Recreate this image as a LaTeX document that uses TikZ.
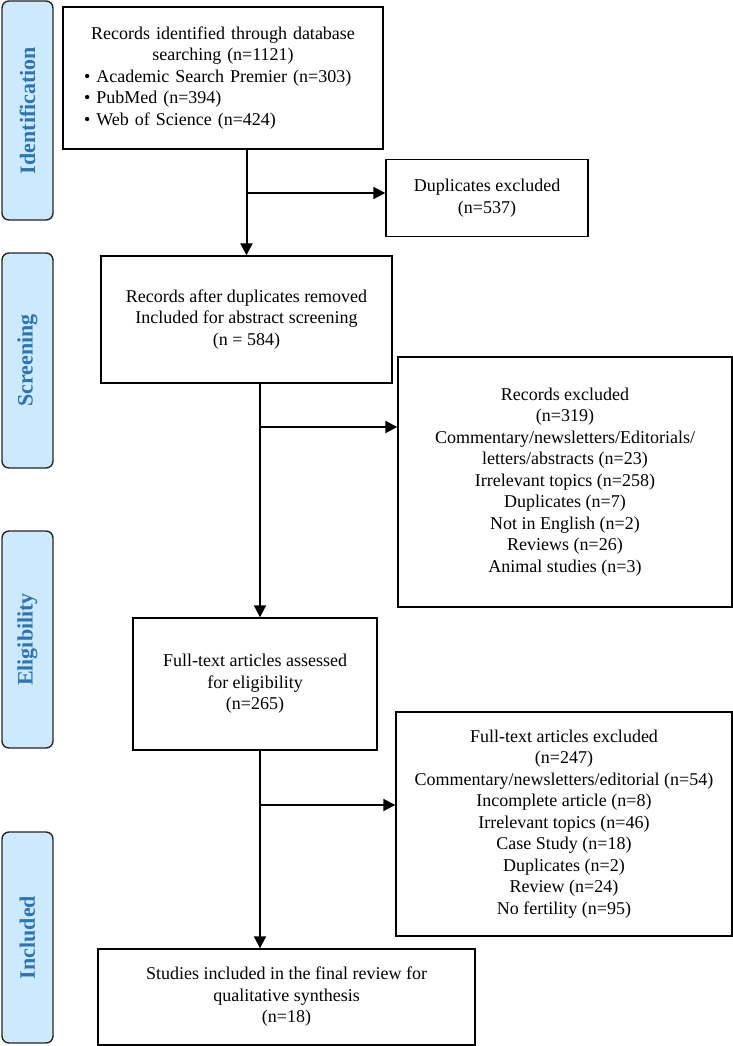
\documentclass[tikz,border=0pt]{standalone}
\usepackage{fontspec}
\setmainfont{Liberation Serif}
\usepackage{tikz}
\usetikzlibrary{arrows.meta,positioning}

\definecolor{phasefill}{RGB}{204,234,252}
\definecolor{phasetext}{RGB}{46,116,181}

\begin{document}
\begin{tikzpicture}[x=1pt,y=-1pt,>={Triangle[width=12pt,length=12pt]}]
  \tikzstyle{every node}=[font=\fontsize{18}{21.5}\selectfont]
  \tikzstyle{box}=[draw,line width=1.4pt,inner sep=0pt,align=center]
  \tikzstyle{phase}=[draw=black!85,line width=1.4pt,fill=phasefill,rounded corners=7pt,
    minimum height=51pt,inner sep=0pt,rotate=90,
    font=\fontsize{22}{24}\selectfont\bfseries,text=phasetext]
  \tikzstyle{flow}=[line width=2pt]

  \useasboundingbox (0,0) rectangle (733,1046);

  % phases on the left
  \node[phase,minimum width=219pt] (idp)  at (27.5,110.5) {Identification};
  \node[phase,minimum width=215pt] (scp)  at (27.5,360.5) {Screening};
  \node[phase,minimum width=217pt] (elp)  at (27.5,639.5) {Eligibility};
  \node[phase,minimum width=211pt] (inp)  at (27.5,937.5) {Included};

  % main column
  \node[box,text width=278pt,minimum width=320pt,minimum height=142pt,align=left] (ident) at (223,78)
    {\makebox[\linewidth]{Records identified through database}\\
     \makebox[\linewidth]{searching (n=1121)}\\
     \textbullet\ Academic Search Premier (n=303)\\
     \textbullet\ PubMed (n=394)\\
     \textbullet\ Web of Science (n=424)};
  \node[box,minimum width=291pt,minimum height=127pt] (screen) at (246.5,319.5)
    {Records after duplicates removed\\ Included for abstract screening\\ (n = 584)};
  \node[box,minimum width=244pt,minimum height=132pt] (elig) at (255,684)
    {Full-text articles assessed\\ for eligibility\\ (n=265)};
  \node[box,minimum width=377pt,minimum height=96pt] (incl) at (286.5,997)
    {Studies included in the final review for\\ qualitative synthesis\\ (n=18)};

  % exclusions
  \node[box,minimum width=202pt,minimum height=77pt] (dup) at (487,198)
    {Duplicates excluded\\ (n=537)};
  \node[box,minimum width=334pt,minimum height=250pt] (recex) at (565,482)
    {Records excluded\\ (n=319)\\ Commentary/newsletters/Editorials/\\ letters/abstracts (n=23)\\
     Irrelevant topics (n=258)\\ Duplicates (n=7)\\ Not in English (n=2)\\ Reviews (n=26)\\
     Animal studies (n=3)};
  \node[box,minimum width=336pt,minimum height=224pt] (ftex) at (564,824)
    {Full-text articles excluded\\ (n=247)\\ Commentary/newsletters/editorial (n=54)\\
     Incomplete article (n=8)\\ Irrelevant topics (n=46)\\ Case Study (n=18)\\
     Duplicates (n=2)\\ Review (n=24)\\ No fertility (n=95)};

  % spine and branch points
  \coordinate (sp)  at (260,0);
  \coordinate (br1) at (246.5,193);
  \coordinate (br2) at (260,427);
  \coordinate (br3) at (260,805);

  \path[flow,->]
  (ident.south -| screen.north) edge (screen.north)
  (br1) edge (br1 -| dup.west)
  (screen.south -| sp) edge (elig.north -| sp)
  (br2) edge (br2 -| recex.west)
  (elig.south -| sp) edge (incl.north -| sp)
  (br3) edge (br3 -| ftex.west);
\end{tikzpicture}
\end{document}
